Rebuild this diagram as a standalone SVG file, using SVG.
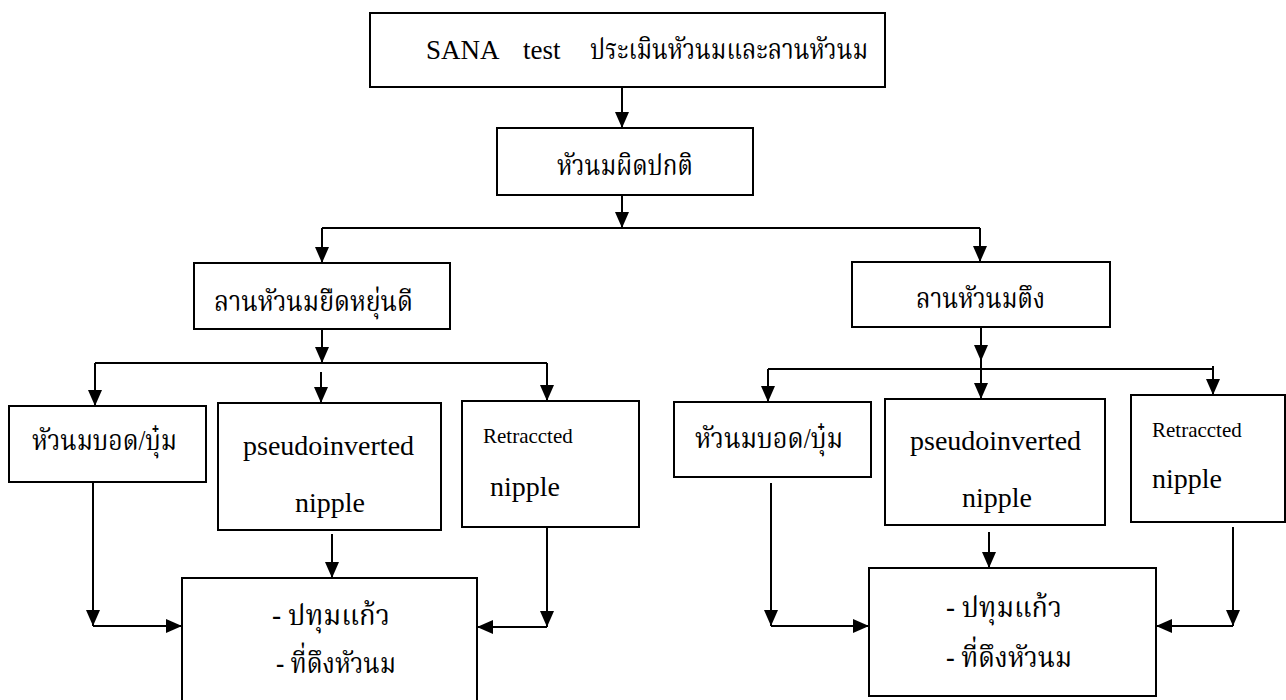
<svg xmlns="http://www.w3.org/2000/svg" width="1286" height="700" viewBox="0 0 1286 700">
<style>
.box{fill:#fff;stroke:#000;stroke-width:2}
.ln{fill:none;stroke:#000;stroke-width:2}
.en{font-family:"Liberation Serif","Times New Roman",serif;font-size:27px;fill:#000}
.en28{font-family:"Liberation Serif","Times New Roman",serif;font-size:28px;fill:#000}
.sm{font-family:"Liberation Serif","Times New Roman",serif;font-size:21px;fill:#000}
.th{font-family:"Liberation Serif","Noto Serif Thai","Noto Sans Thai",serif;font-size:29px;fill:#000}
</style>
<defs>
<marker id="ah" markerUnits="userSpaceOnUse" markerWidth="16" markerHeight="14" refX="16" refY="7" orient="auto">
<path d="M0,0 L16,7 L0,14 z" fill="#000"/>
</marker>
</defs>
<rect width="1286" height="700" fill="#fff"/>
<g id="connectors">
<path class="ln" d="M622,87 V128" marker-end="url(#ah)"/>
<path class="ln" d="M622,195 V228" marker-end="url(#ah)"/>
<path class="ln" d="M322,228 H980"/>
<path class="ln" d="M322,228 V263" marker-end="url(#ah)"/>
<path class="ln" d="M980,228 V262" marker-end="url(#ah)"/>
<path class="ln" d="M322,329 V363" marker-end="url(#ah)"/>
<path class="ln" d="M95,363 H547"/>
<path class="ln" d="M95,363 V406" marker-end="url(#ah)"/>
<path class="ln" d="M321,372 V403" marker-end="url(#ah)"/>
<path class="ln" d="M547,363 V401" marker-end="url(#ah)"/>
<path class="ln" d="M981,327 V361" marker-end="url(#ah)"/>
<path class="ln" d="M981,361 V399" marker-end="url(#ah)"/>
<path class="ln" d="M768,369 H1213"/>
<path class="ln" d="M768,369 V402" marker-end="url(#ah)"/>
<path class="ln" d="M1213,366 V395" marker-end="url(#ah)"/>
<path class="ln" d="M93,482 V626" marker-end="url(#ah)"/>
<path class="ln" d="M93,626 H182" marker-end="url(#ah)"/>
<path class="ln" d="M332,534 V578" marker-end="url(#ah)"/>
<path class="ln" d="M547,527 V627" marker-end="url(#ah)"/>
<path class="ln" d="M547,627 H477" marker-end="url(#ah)"/>
<path class="ln" d="M771,483 V626" marker-end="url(#ah)"/>
<path class="ln" d="M771,626 H869" marker-end="url(#ah)"/>
<path class="ln" d="M989,532 V568" marker-end="url(#ah)"/>
<path class="ln" d="M1233,527 V626" marker-end="url(#ah)"/>
<path class="ln" d="M1233,626 H1156" marker-end="url(#ah)"/>
</g>
<g id="n-top">
<rect class="box" x="370" y="13" width="515" height="74"/>
<text class="en" x="426" y="59">SANA</text>
<text class="en" x="523" y="59">test</text>
<text class="th" x="590" y="59" textLength="278" lengthAdjust="spacingAndGlyphs">ประเมินหัวนมและลานหัวนม</text>
</g>
<g id="n-abnormal">
<rect class="box" x="497" y="128" width="256" height="67"/>
<text class="th" x="557" y="175" textLength="136" lengthAdjust="spacingAndGlyphs">หัวนมผิดปกติ</text>
</g>
<g id="n-elastic">
<rect class="box" x="194" y="263" width="256" height="66"/>
<text class="th" x="214" y="311" textLength="199" lengthAdjust="spacingAndGlyphs">ลานหัวนมยืดหยุ่นดี</text>
</g>
<g id="n-tight">
<rect class="box" x="852" y="262" width="258" height="65"/>
<text class="th" x="916" y="308" textLength="129" lengthAdjust="spacingAndGlyphs">ลานหัวนมตึง</text>
</g>
<g id="n-l-flat">
<rect class="box" x="9" y="406" width="197" height="76"/>
<text class="th" x="32" y="450" textLength="145" lengthAdjust="spacingAndGlyphs">หัวนมบอด/บุ๋ม</text>
</g>
<g id="n-l-pseudo">
<rect class="box" x="218" y="403" width="223" height="127"/>
<text class="en28" x="243" y="455">pseudoinverted</text>
<text class="en28" x="295" y="512">nipple</text>
</g>
<g id="n-l-retr">
<rect class="box" x="462" y="401" width="177" height="126"/>
<text class="sm" x="483" y="443">Retraccted</text>
<text class="en28" x="490" y="496">nipple</text>
</g>
<g id="n-l-treat">
<rect class="box" x="182" y="578" width="295" height="130"/>
<text class="th" x="272" y="625" textLength="118" lengthAdjust="spacingAndGlyphs">-  ปทุมแก้ว</text>
<text class="th" x="276" y="673" textLength="120" lengthAdjust="spacingAndGlyphs">- ที่ดึงหัวนม</text>
</g>
<g id="n-r-flat">
<rect class="box" x="674" y="402" width="197" height="75"/>
<text class="th" x="695" y="448" textLength="148" lengthAdjust="spacingAndGlyphs">หัวนมบอด/บุ๋ม</text>
</g>
<g id="n-r-pseudo">
<rect class="box" x="885" y="399" width="220" height="126"/>
<text class="en28" x="910" y="450">pseudoinverted</text>
<text class="en28" x="962" y="507">nipple</text>
</g>
<g id="n-r-retr">
<rect class="box" x="1131" y="395" width="154" height="127"/>
<text class="sm" x="1152" y="437">Retraccted</text>
<text class="en28" x="1152" y="488">nipple</text>
</g>
<g id="n-r-treat">
<rect class="box" x="869" y="568" width="287" height="128"/>
<text class="th" x="946" y="617" textLength="116" lengthAdjust="spacingAndGlyphs">-  ปทุมแก้ว</text>
<text class="th" x="946" y="667" textLength="126" lengthAdjust="spacingAndGlyphs">- ที่ดึงหัวนม</text>
</g>
</svg>
